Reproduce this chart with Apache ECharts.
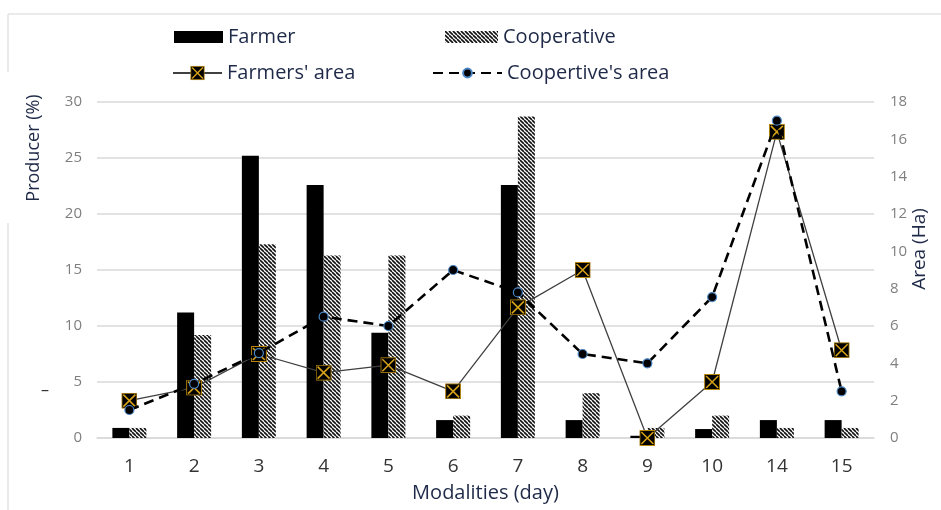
<!DOCTYPE html>
<html><head><meta charset="utf-8">
<script src="https://cdn.jsdelivr.net/npm/echarts@6/dist/echarts.min.js"></script>
<style>html,body{margin:0;padding:0;background:#fff}#c{width:941px;height:510px}</style>
</head><body><div id="c"></div>
<script>
const categories = ['1','2','3','4','5','6','7','8','9','10','14','15'];
const farmer = [0.9, 11.2, 25.2, 22.6, 9.4, 1.6, 22.6, 1.6, 0.2, 0.8, 1.6, 1.6];
const cooperative = [0.9, 9.2, 17.3, 16.3, 16.3, 2.0, 28.7, 4.0, 0.9, 2.0, 0.9, 0.9];
const farmersArea = [2.0, 2.7, 4.5, 3.5, 3.9, 2.5, 7.0, 9.0, 0, 3.0, 16.4, 4.7];
const coopArea = [1.5, 2.9, 4.55, 6.5, 6.0, 9.0, 7.8, 4.5, 4.0, 7.55, 17.0, 2.5];
const leftTicks = {min: 0, max: 30, interval: 5};
const rightTicks = {min: 0, max: 18, interval: 2};

const FONT = '"Open Sans", "Noto Sans", sans-serif';
const TXT = '#1f2a48';

function hatch() {
  const s = 4;
  const cv = document.createElement('canvas');
  cv.width = s; cv.height = s;
  const ctx = cv.getContext('2d');
  ctx.fillStyle = '#ffffff';
  ctx.fillRect(0, 0, s, s);
  ctx.strokeStyle = '#111';
  ctx.lineWidth = 1.6;
  for (let x = -s; x <= s; x += s) {
    ctx.beginPath();
    ctx.moveTo(x, 0);
    ctx.lineTo(x + s, s);
    ctx.stroke();
  }
  return cv;
}
const sqSvg = '<svg xmlns="http://www.w3.org/2000/svg" width="16" height="16" viewBox="0 0 16 16"><rect x="0.5" y="0.5" width="15" height="15" fill="#000" stroke="#b8860b" stroke-width="1"/><path d="M2 2 L14 14 M14 2 L2 14" stroke="#d4a017" stroke-width="1.6"/></svg>';
const sqSymbol = 'image://data:image/svg+xml;charset=utf-8,' + encodeURIComponent(sqSvg);

const legTxt = {fontFamily: FONT, fontSize: 20, color: TXT};
const chart = echarts.init(document.getElementById('c'), null, {renderer: 'canvas'});
chart.setOption({
  animation: false,
  backgroundColor: '#fff',
  grid: {left: 97, right: 67, top: 102, bottom: 72, containLabel: false, outerBoundsMode: 'none'},
  legend: [
    {data: ['Farmer'], left: 169, top: 22, itemWidth: 49, itemHeight: 12, itemGap: 0, icon: 'rect', textStyle: legTxt},
    {data: ['Cooperative'], left: 440, top: 22, itemWidth: 53, itemHeight: 12, itemGap: 0, icon: 'rect', textStyle: legTxt},
    {data: ["Farmers' area"], left: 167, top: 58, itemWidth: 49, itemHeight: 18, itemGap: 0, textStyle: legTxt},
    {data: ["Coopertive's area"], left: 427, top: 58, itemWidth: 69, itemHeight: 11, itemGap: 0, textStyle: legTxt}
  ],
  xAxis: {
    type: 'category', data: categories,
    axisLine: {show: true, lineStyle: {color: '#d9d9d9', width: 1.5}},
    axisTick: {show: false},
    axisLabel: {margin: 19, fontFamily: FONT, fontSize: 19, color: '#333'},
    name: 'Modalities (day)', nameLocation: 'middle', nameGap: 45,
    nameTextStyle: {fontFamily: FONT, fontSize: 20, color: TXT}
  },
  yAxis: [
    {type: 'value', min: leftTicks.min, max: leftTicks.max, interval: leftTicks.interval,
     axisLine: {show: false}, axisTick: {show: false},
     axisLabel: {margin: 15, fontFamily: FONT, fontSize: 15, color: '#7f7f7f'},
     splitLine: {lineStyle: {color: '#d9d9d9', width: 1.5}}},
    {type: 'value', min: rightTicks.min, max: rightTicks.max, interval: rightTicks.interval,
     axisLine: {show: false}, axisTick: {show: false}, splitLine: {show: false},
     axisLabel: {margin: 16, fontFamily: FONT, fontSize: 15, color: '#7f7f7f'}}
  ],
  series: [
    {name: 'Farmer', type: 'bar', data: farmer, yAxisIndex: 0, barWidth: 17, barGap: '0%',
     itemStyle: {color: '#000'}},
    {name: 'Cooperative', type: 'bar', data: cooperative, yAxisIndex: 0, barWidth: 17,
     itemStyle: {color: {image: hatch(), repeat: 'repeat'}}},
    {name: "Farmers' area", type: 'line', data: farmersArea, yAxisIndex: 1, z: 3,
     symbol: sqSymbol, symbolSize: 16, showAllSymbol: true,
     lineStyle: {color: '#404040', width: 1.3}, itemStyle: {color: '#000'}},
    {name: "Coopertive's area", type: 'line', data: coopArea, yAxisIndex: 1, z: 4,
     symbol: 'circle', symbolSize: 9, showAllSymbol: true,
     lineStyle: {color: '#000', width: 2.6, type: [10, 6]},
     itemStyle: {color: '#000', borderColor: '#4a86c5', borderWidth: 1.2}}
  ],
  graphic: [
    {type: 'text', x: 34, y: 148, rotation: Math.PI / 2,
     style: {text: 'Producer (%)', fontFamily: FONT, fontSize: 18, fill: TXT, align: 'center', verticalAlign: 'middle'}},
    {type: 'text', x: 920, y: 249, rotation: Math.PI / 2,
     style: {text: 'Area (Ha)', fontFamily: FONT, fontSize: 19, fill: TXT, align: 'center', verticalAlign: 'middle'}},
    {type: 'text', x: 45, y: 390,
     style: {text: '–', fontFamily: FONT, fontSize: 16, fill: '#333', align: 'center', verticalAlign: 'middle'}},
    {type: 'line', shape: {x1: 8, y1: 14, x2: 941, y2: 14}, style: {stroke: '#e3e3e3', lineWidth: 1.5}},
    {type: 'line', shape: {x1: 8, y1: 14, x2: 8, y2: 72}, style: {stroke: '#e3e3e3', lineWidth: 1.5}},
    {type: 'line', shape: {x1: 8, y1: 223, x2: 8, y2: 510}, style: {stroke: '#e3e3e3', lineWidth: 1.5}}
  ]
});
</script></body></html>
